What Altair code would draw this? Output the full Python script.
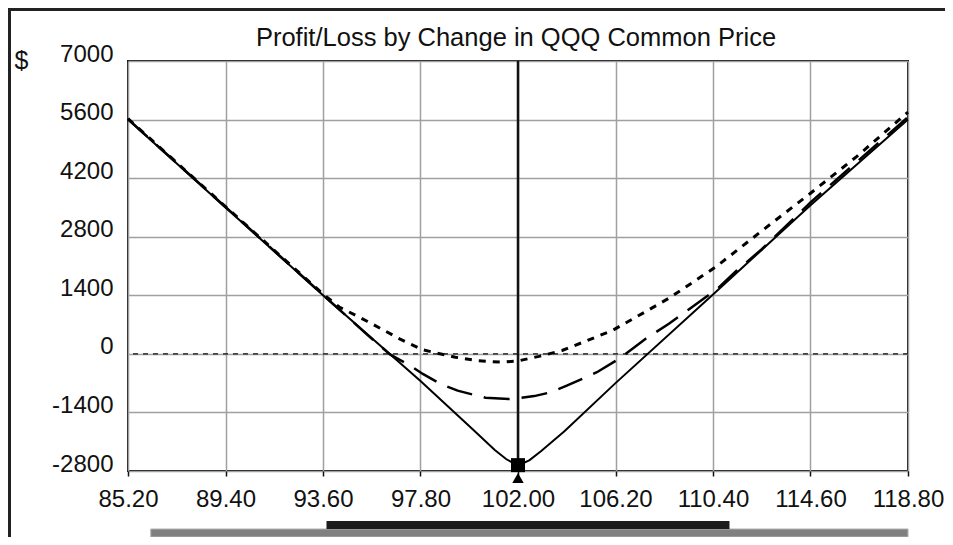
import altair as alt
import pandas as pd

# ---- data ----
title_text = "Profit/Loss by Change in QQQ Common Price"
price_ticks = [85.2, 89.4, 93.6, 97.8, 102.0, 106.2, 110.4, 114.6, 118.8]
pl_ticks = [-2800, -1400, 0, 1400, 2800, 4200, 5600, 7000]
current_price = [102.0]
current_pl = [-2660]

# solid line (at expiration)
solid_price = [85.2, 89.4, 93.6, 97.8, 100.0, 101.0, 101.5, 102.0, 102.5, 103.0, 104.0, 106.2, 110.4, 114.6, 118.8]
solid_pl = [5600, 3500, 1400, -650, -1780, -2300, -2520, -2670, -2540, -2320, -1850, -700, 1420, 3550, 5600]

# long dashed line (intermediate date)
dash_price = [85.2, 89.4, 93.6, 95.5, 96.5, 97.3, 97.9, 98.7, 99.4, 100.6, 101.6, 102.0, 102.7, 103.4, 104.1,
              105.4, 106.4, 107.5, 108.5, 109.4, 110.6, 111.4, 112.5, 114.6, 118.8]
dash_pl = [5610, 3510, 1410, 460, -20, -260, -480, -730, -880, -1050, -1080, -1060, -1010, -920, -760,
           -440, -100, 360, 720, 1080, 1560, 1980, 2500, 3620, 5660]

# short dotted line (today)
dot_price = [85.2, 89.4, 93.6, 94.3, 95.5, 96.9, 97.9, 99.3, 100.2, 101.3, 102.0, 102.9, 103.9, 104.9,
             106.1, 107.5, 108.5, 110.5, 112.55, 114.6, 116.6, 118.8]
dot_pl = [5620, 3520, 1430, 1120, 780, 360, 96, -80, -160, -200, -170, -60, 80, 300,
          570, 1010, 1330, 2070, 2960, 3840, 4720, 5780]

# range bars under the chart
range_outer = [86.18, 118.8]
range_inner = [93.75, 111.11]

# ---- tables ----
df = pd.concat([
    pd.DataFrame({"price": solid_price, "pl": solid_pl, "series": "solid"}),
    pd.DataFrame({"price": dash_price, "pl": dash_pl, "series": "dash"}),
    pd.DataFrame({"price": dot_price, "pl": dot_pl, "series": "dot"}),
])
cur = pd.DataFrame({"price": current_price, "pl": current_pl})
ranges = pd.DataFrame({
    "lo": [range_outer[0], range_inner[0]],
    "hi": [range_outer[1], range_inner[1]],
    "kind": ["outer", "inner"],
})

W, H = 780, 410
LABEL_FONT = "Liberation Sans, Arial, sans-serif"
TEXT_FONT = "Liberation Sans, Arial, sans-serif"

xs = alt.Scale(domain=[price_ticks[0], price_ticks[-1]], nice=False, zero=False)
ys = alt.Scale(domain=[pl_ticks[0], pl_ticks[-1]], nice=False, zero=False)

xax = alt.Axis(values=price_ticks, labelExpr="format(datum.value, '.2f')", title=None,
               grid=True, gridColor="#a0a0a0", gridWidth=1.5, domain=False,
               ticks=True, tickColor="#111", tickSize=5, tickWidth=1.5,
               labelFont=LABEL_FONT, labelFontSize=24, labelColor="#111", labelPadding=11,
               labelFlush=False, labelOverlap=False)
yax = alt.Axis(values=pl_ticks, labelExpr="'' + datum.value", title="$",
               titleAngle=0, titleX=-107, titleY=-1, titleAlign="center", titleBaseline="middle",
               titleFont=TEXT_FONT, titleFontSize=25, titleFontWeight="normal", titleColor="#111",
               grid=True, gridColor="#a0a0a0", gridWidth=1.5, domain=False, ticks=False,
               labelFont=LABEL_FONT, labelFontSize=24, labelColor="#111", labelPadding=15,
               labelOffset=-7, labelFlush=False, labelOverlap=False)

base = alt.Chart(df)

axes_layer = base.mark_point(opacity=0).encode(
    x=alt.X("price:Q", scale=xs, axis=xax),
    y=alt.Y("pl:Q", scale=ys, axis=yax),
)

zero_line = alt.Chart(pd.DataFrame({"pl": [0]})).mark_rule(
    color="#111", strokeWidth=1.2, strokeDash=[5, 5]
).encode(y=alt.Y("pl:Q", scale=ys))

cur_line = alt.Chart(cur).mark_rule(color="#111", strokeWidth=2.5).encode(
    x=alt.X("price:Q", scale=xs))

solid = base.transform_filter(alt.datum.series == "solid").mark_line(
    color="#000", strokeWidth=2).encode(
    x=alt.X("price:Q", scale=xs), y=alt.Y("pl:Q", scale=ys), order="price:Q")
dash = base.transform_filter(alt.datum.series == "dash").mark_line(
    color="#000", strokeWidth=2.5, strokeDash=[26, 12]).encode(
    x=alt.X("price:Q", scale=xs), y=alt.Y("pl:Q", scale=ys), order="price:Q")
dot = base.transform_filter(alt.datum.series == "dot").mark_line(
    color="#000", strokeWidth=3, strokeDash=[7, 7]).encode(
    x=alt.X("price:Q", scale=xs), y=alt.Y("pl:Q", scale=ys), order="price:Q")

marker = alt.Chart(cur).mark_square(color="#000", size=196, opacity=1).encode(
    x=alt.X("price:Q", scale=xs), y=alt.Y("pl:Q", scale=ys))
pointer = alt.Chart(cur).mark_point(shape="triangle-up", filled=True, color="#000",
                                    size=130, opacity=1).encode(
    x=alt.X("price:Q", scale=xs), y=alt.value(H + 7))

title = alt.Chart(pd.DataFrame({"t": [title_text]})).mark_text(
    font=TEXT_FONT, fontSize=25.5, color="#111", align="center", baseline="alphabetic"
).encode(text="t:N", x=alt.value(W / 2 - 2), y=alt.value(-15))

outer_bar = alt.Chart(ranges).transform_filter(alt.datum.kind == "outer").mark_rect(
    color="#808080", stroke="#b0b0b0", strokeWidth=1).encode(
    x=alt.X("lo:Q", scale=xs), x2="hi:Q", y=alt.value(H + 58), y2=alt.value(H + 66))
inner_bar = alt.Chart(ranges).transform_filter(alt.datum.kind == "inner").mark_rect(
    color="#1c1c1c").encode(
    x=alt.X("lo:Q", scale=xs), x2="hi:Q", y=alt.value(H + 50), y2=alt.value(H + 58))

frame_top = alt.Chart(pd.DataFrame({"a": [0]})).mark_rule(color="#222", strokeWidth=3).encode(
    x=alt.value(-121), x2=alt.value(W + 38), y=alt.value(-51.5))
frame_left = alt.Chart(pd.DataFrame({"a": [0]})).mark_rule(color="#222", strokeWidth=3).encode(
    x=alt.value(-118.5), y=alt.value(-53), y2=alt.value(H + 66))

chart = alt.layer(
    axes_layer, zero_line, cur_line, dash, dot, solid, marker, pointer,
    title, outer_bar, inner_bar, frame_top, frame_left
).properties(
    width=W, height=H,
    autosize=alt.AutoSizeParams(type="none"),
    padding={"left": 120, "top": 53, "right": 37, "bottom": 66},
    background="white",
).configure_view(
    stroke="#111", strokeWidth=2
)

chart.save("out.html", embed_options={"renderer": "svg", "actions": False})
